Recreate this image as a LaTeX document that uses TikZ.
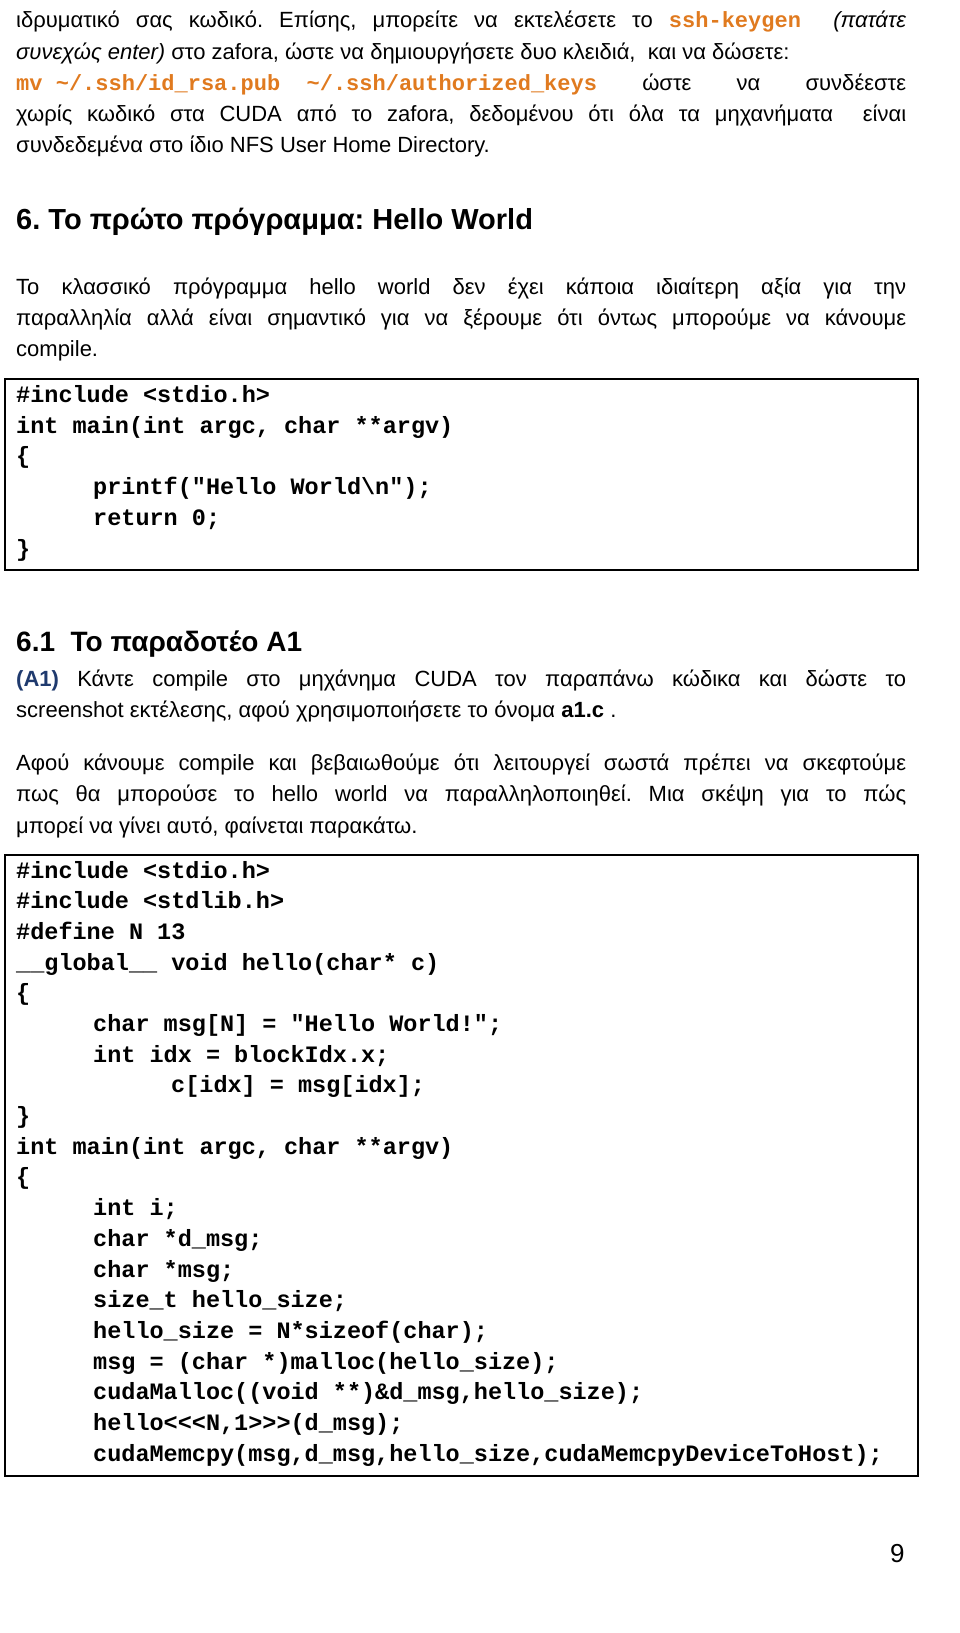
\documentclass[tikz,border=0pt]{standalone}
\usepackage{fontspec}
\setmainfont{Liberation Sans}
\newfontfamily\codefont{Liberation Mono}[Ligatures=TeXOff]
\definecolor{orng}{HTML}{E07A1F}
\definecolor{dblue}{HTML}{1F3A6E}
\newcommand{\oc}[1]{\mbox{\color{orng}\codefont\bfseries #1}}
\frenchspacing
\begin{document}
\begin{tikzpicture}[x=1pt,y=-1pt,
  txt/.style={anchor=mid west,inner sep=0pt,yshift=-5pt,font=\fontsize{22}{26}\selectfont},
  code/.style={anchor=mid west,inner sep=0pt,yshift=-5pt,font=\codefont\bfseries\fontsize{23.5}{28}\selectfont},
  head/.style={anchor=mid west,inner sep=0pt,yshift=-9pt,font=\bfseries\fontsize{29}{34}\selectfont},
  box/.style={draw,line width=1.2pt}]
\useasboundingbox (0,0) rectangle (960,1633);
% top paragraph
\node[txt] (t1) at (16,20) {\makebox[890pt][s]{ιδρυματικό σας κωδικό. Επίσης, μπορείτε να εκτελέσετε το \oc{ssh-keygen} \ \textit{(πατάτε}}};
\node[txt] (t2) at (16,52) {\textit{συνεχώς enter)} στο zafora, ώστε να δημιουργήσετε δυο κλειδιά, \ και να δώσετε:};
\node[txt] (t3) at (16,83) {\makebox[890pt][s]{\oc{mv \textasciitilde/.ssh/id\_rsa.pub\ \ \textasciitilde/.ssh/authorized\_keys} ώστε να συνδέεστε}};
\node[txt] (t4) at (16,114) {\makebox[890pt][s]{χωρίς κωδικό στα CUDA από το zafora, δεδομένου ότι όλα τα μηχανήματα \ είναι}};
\node[txt] (t5) at (16,145) {συνδεδεμένα στο ίδιο NFS User Home Directory.};
% heading 6
\node[head] (h6) at (16,218) {6. Το πρώτο πρόγραμμα: Hello World};
\node[txt] (p1) at (16,287) {\makebox[890pt][s]{Το κλασσικό πρόγραμμα hello world δεν έχει κάποια ιδιαίτερη αξία για την}};
\node[txt] (p2) at (16,318) {\makebox[890pt][s]{παραλληλία αλλά είναι σημαντικό για να ξέρουμε ότι όντως μπορούμε να κάνουμε}};
\node[txt] (p3) at (16,349) {compile.};
% code box 1
\draw[box] (5,379) rectangle (918,570);
\node[code] (a1) at (16,395) {\#include <stdio.h>};
\node[code] (a2) at (16,426) {int main(int argc, char **argv)};
\node[code] (a3) at (16,456) {\{};
\node[code] (a4) at (93,487) {printf("Hello World\textbackslash n");};
\node[code] (a5) at (93,518) {return 0;};
\node[code] (a6) at (16,549) {\}};
% heading 6.1
\node[head,font=\bfseries\fontsize{28}{33}\selectfont] (h61) at (16,640) {6.1\ \ Το παραδοτέο A1};
\node[txt] (q1) at (16,679) {\makebox[890pt][s]{{\color{dblue}\bfseries(A1)} Κάντε compile στο μηχάνημα CUDA τον παραπάνω κώδικα και δώστε το}};
\node[txt] (q2) at (16,710) {screenshot εκτέλεσης, αφού χρησιμοποιήσετε το όνομα \textbf{a1.c} .};
\node[txt] (r1) at (16,763) {\makebox[890pt][s]{Αφού κάνουμε compile και βεβαιωθούμε ότι λειτουργεί σωστά πρέπει να σκεφτούμε}};
\node[txt] (r2) at (16,794) {\makebox[890pt][s]{πως θα μπορούσε το hello world να παραλληλοποιηθεί. Μια σκέψη για το πώς}};
\node[txt] (r3) at (16,826) {μπορεί να γίνει αυτό, φαίνεται παρακάτω.};
% code box 2
\draw[box] (5,855) rectangle (918,1476);
\node[code] (b1) at (16,871) {\#include <stdio.h>};
\node[code] (b2) at (16,901) {\#include <stdlib.h>};
\node[code] (b3) at (16,932) {\#define N 13};
\node[code] (b4) at (16,963) {\_\_global\_\_ void hello(char* c)};
\node[code] (b5) at (16,993) {\{};
\node[code] (b6) at (93,1024) {char msg[N] = "Hello World!";};
\node[code] (b7) at (93,1055) {int idx = blockIdx.x;};
\node[code] (b8) at (171,1085) {c[idx] = msg[idx];};
\node[code] (b9) at (16,1116) {\}};
\node[code] (b10) at (16,1147) {int main(int argc, char **argv)};
\node[code] (b11) at (16,1177) {\{};
\node[code] (b12) at (93,1208) {int i;};
\node[code] (b13) at (93,1239) {char *d\_msg;};
\node[code] (b14) at (93,1270) {char *msg;};
\node[code] (b15) at (93,1300) {size\_t hello\_size;};
\node[code] (b16) at (93,1331) {hello\_size = N*sizeof(char);};
\node[code] (b17) at (93,1362) {msg = (char *)malloc(hello\_size);};
\node[code] (b18) at (93,1392) {cudaMalloc((void **)\&d\_msg,hello\_size);};
\node[code] (b19) at (93,1423) {hello<<<N,1>>>(d\_msg);};
\node[code] (b20) at (93,1454) {cudaMemcpy(msg,d\_msg,hello\_size,cudaMemcpyDeviceToHost);};
\node[txt,font=\fontsize{26}{30}\selectfont] (pg) at (890,1555) {9};
\end{tikzpicture}
\end{document}
